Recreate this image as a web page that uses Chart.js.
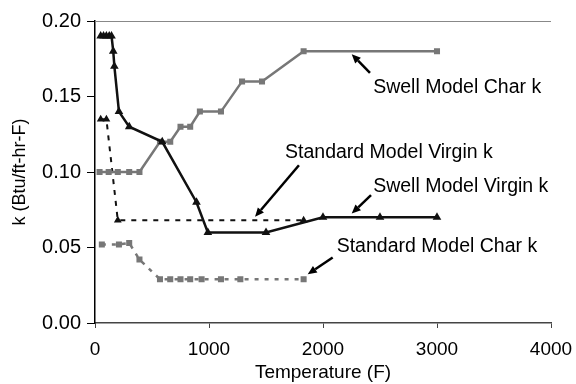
<!DOCTYPE html>
<html>
<head>
<meta charset="utf-8">
<script src="https://cdn.jsdelivr.net/npm/chart.js@4"></script>
<style>
  html, body { margin: 0; padding: 0; background: #fff; }
  #wrap { width: 576px; height: 384px; }
</style>
</head>
<body>
<div id="wrap"><canvas id="kChart" width="576" height="384"></canvas></div>
<script>
// temperatures (F) and conductivity k (Btu/ft-hr-F)
const swellVirginT = [50, 75, 100, 125, 145, 160, 170, 210, 300, 590, 890, 990, 1500, 2000, 2500, 3000];
const swellVirginK = [0.19, 0.19, 0.19, 0.19, 0.19, 0.18, 0.17, 0.14, 0.13, 0.12, 0.08, 0.06, 0.06, 0.07, 0.07, 0.07];

const swellCharT = [40, 120, 200, 300, 390, 570, 660, 750, 835, 920, 1105, 1290, 1465, 1830, 3000];
const swellCharK = [0.10, 0.10, 0.10, 0.10, 0.10, 0.12, 0.12, 0.13, 0.13, 0.14, 0.14, 0.16, 0.16, 0.18, 0.18];

const stdVirginT = [50, 100, 200, 1830];
const stdVirginK = [0.135, 0.135, 0.068, 0.068];

const stdCharT = [60, 210, 300, 390, 570, 660, 750, 835, 935, 1105, 1275, 1830];
const stdCharK = [0.052, 0.052, 0.053, 0.042, 0.029, 0.029, 0.029, 0.029, 0.029, 0.029, 0.029, 0.029];

const xTicks = [0, 1000, 2000, 3000, 4000];
const yTicks = [0, 0.05, 0.10, 0.15, 0.20];

// callout labels: text anchor, arrow tail, arrow head (data units)
const noteText = ['Swell Model Char k', 'Standard Model Virgin k', 'Swell Model Virgin k', 'Standard Model Char k'];
const noteAt   = [[2440, 0.156], [1667, 0.113], [2440, 0.090], [2120, 0.0508]];
const noteTail = [[2412, 0.1657], [1789, 0.1045], [2421, 0.0847], [2085, 0.0434]];
const noteHead = [[2252, 0.178], [1404, 0.0703], [2252, 0.0725], [1866, 0.0323]];

const pts = (xs, ys) => xs.map((x, i) => ({ x: x, y: ys[i] }));

const BLACK = '#111';
const GREY = '#777';

const callouts = {
  id: 'callouts',
  afterDatasetsDraw(chart) {
    const { ctx, scales: { x, y }, chartArea } = chart;
    ctx.save();
    // top frame line
    ctx.strokeStyle = '#888';
    ctx.lineWidth = 1;
    ctx.beginPath();
    ctx.moveTo(chartArea.left, chartArea.top + 0.5);
    ctx.lineTo(chartArea.right, chartArea.top + 0.5);
    ctx.stroke();

    ctx.fillStyle = '#000';
    ctx.strokeStyle = '#000';
    ctx.font = '19.5px "Liberation Sans", Arial, sans-serif';
    ctx.textBaseline = 'middle';
    ctx.textAlign = 'left';
    noteText.forEach((t, i) => {
      ctx.fillText(t, x.getPixelForValue(noteAt[i][0]), y.getPixelForValue(noteAt[i][1]));
      const x0 = x.getPixelForValue(noteTail[i][0]), y0 = y.getPixelForValue(noteTail[i][1]);
      const x1 = x.getPixelForValue(noteHead[i][0]), y1 = y.getPixelForValue(noteHead[i][1]);
      const a = Math.atan2(y1 - y0, x1 - x0);
      const len = 9, w = 4;
      const bx = x1 - len * Math.cos(a), by = y1 - len * Math.sin(a);
      ctx.lineWidth = 2.5;
      ctx.beginPath();
      ctx.moveTo(x0, y0);
      ctx.lineTo(bx, by);
      ctx.stroke();
      ctx.beginPath();
      ctx.moveTo(x1, y1);
      ctx.lineTo(bx + w * Math.sin(a), by - w * Math.cos(a));
      ctx.lineTo(bx - w * Math.sin(a), by + w * Math.cos(a));
      ctx.closePath();
      ctx.fill();
    });
    ctx.restore();
  }
};

Chart.defaults.font.family = '"Liberation Sans", Arial, sans-serif';
Chart.defaults.font.size = 19;
Chart.defaults.color = '#000';

window.addEventListener('load', () => {
  new Chart(document.getElementById('kChart'), {
    type: 'scatter',
    data: {
      datasets: [{
        label: 'Swell Model Virgin k',
        data: pts(swellVirginT, swellVirginK),
        showLine: true,
        borderColor: BLACK,
        backgroundColor: BLACK,
        borderWidth: 2.5,
        pointStyle: 'triangle',
        pointRadius: 2.5
      }, {
        label: 'Swell Model Char k',
        data: pts(swellCharT, swellCharK),
        showLine: true,
        borderColor: GREY,
        backgroundColor: GREY,
        borderWidth: 2.5,
        pointStyle: 'rect',
        pointRadius: 2.5
      }, {
        label: 'Standard Model Virgin k',
        data: pts(stdVirginT, stdVirginK),
        showLine: true,
        borderColor: BLACK,
        backgroundColor: BLACK,
        borderWidth: 2,
        borderDash: [5, 6],
        pointStyle: 'triangle',
        pointRadius: 2.5
      }, {
        label: 'Standard Model Char k',
        data: pts(stdCharT, stdCharK),
        showLine: true,
        borderColor: GREY,
        backgroundColor: GREY,
        borderWidth: 2.5,
        borderDash: [4, 6],
        pointStyle: 'rect',
        pointRadius: 2.5
      }]
    },
    options: {
      responsive: false,
      animation: false,
      layout: { padding: { top: 21, right: 25, left: 0, bottom: 0 } },
      plugins: { legend: { display: false }, tooltip: { enabled: false } },
      scales: {
        x: {
          type: 'linear',
          min: 0,
          max: 4000,
          afterBuildTicks: (s) => { s.ticks = xTicks.map(v => ({ value: v })); },
          afterFit: (s) => { s.height = 61; s.paddingRight = 0; s.paddingLeft = 0; },
          border: { color: '#444', width: 1.5 },
          grid: { drawOnChartArea: false, tickLength: 5, color: '#444' },
          ticks: { padding: 10, callback: (v) => String(v) },
          title: { display: true, text: 'Temperature (F)', padding: { top: 0, bottom: 0 } }
        },
        y: {
          min: 0,
          max: 0.2,
          afterBuildTicks: (s) => { s.ticks = yTicks.map(v => ({ value: v })); },
          afterFit: (s) => { s.width = 95; },
          border: { color: '#000', width: 1.5 },
          grid: { drawOnChartArea: false, tickLength: 8, color: '#000' },
          ticks: { padding: 6, font: { size: 20 }, callback: (v) => v.toFixed(2) },
          title: { display: true, text: 'k (Btu/ft-hr-F)', font: { size: 18 }, padding: { top: 9, bottom: 0 } }
        }
      }
    },
    plugins: [callouts]
  });
});
</script>
</body>
</html>
